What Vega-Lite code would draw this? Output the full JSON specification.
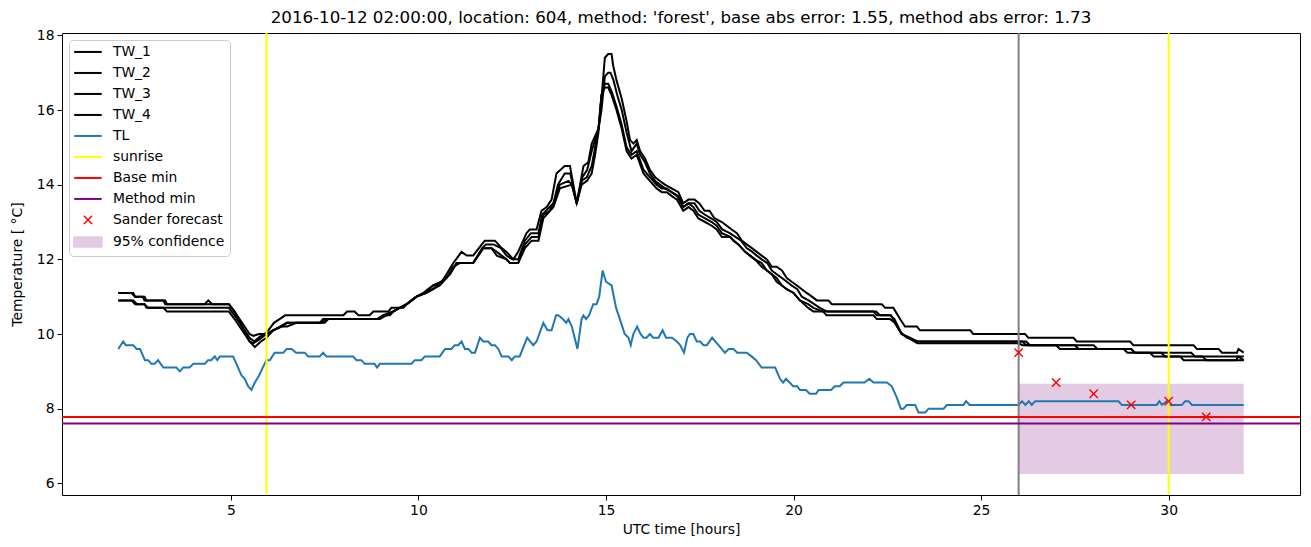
{
"$schema": "https://vega.github.io/schema/vega-lite/v6.json",
"width": 1238, "height": 462,
"autosize": {"type": "none"},
"padding": {"left": 62, "top": 33, "right": 11, "bottom": 52},
"background": "white",
"title": {"text": "2016-10-12 02:00:00, location: 604, method: 'forest', base abs error: 1.55, method abs error: 1.73", "fontSize": 16.67, "fontWeight": "normal", "font": "DejaVu Sans", "color": "black", "anchor": "middle", "offset": 2},
"config": {
  "font": "DejaVu Sans",
  "view": {"stroke": "black", "strokeWidth": 1},
  "axis": {"grid": false, "domain": false, "tickColor": "black", "tickSize": 5, "tickWidth": 1, "labelColor": "black", "labelFontSize": 13.9, "labelFont": "DejaVu Sans", "titleFont": "DejaVu Sans", "titleFontSize": 13.9, "titleFontWeight": "normal", "titleColor": "black", "labelPadding": 3, "labelFlush": false}
},
"datasets": {
"lines": [
{"s":"TW_1","t":2.0,"v":11.1},{"s":"TW_1","t":2.4,"v":11.1},{"s":"TW_1","t":2.45,"v":11.0},{"s":"TW_1","t":2.65,"v":11.0},{"s":"TW_1","t":2.7,"v":10.9},{"s":"TW_1","t":3.2,"v":10.9},{"s":"TW_1","t":3.25,"v":10.8},{"s":"TW_1","t":4.3,"v":10.8},{"s":"TW_1","t":4.4,"v":10.9},{"s":"TW_1","t":4.5,"v":10.8},{"s":"TW_1","t":4.95,"v":10.8},{"s":"TW_1","t":5.1,"v":10.6},{"s":"TW_1","t":5.3,"v":10.3},{"s":"TW_1","t":5.5,"v":10.0},{"s":"TW_1","t":5.6,"v":9.95},{"s":"TW_1","t":5.75,"v":10.0},{"s":"TW_1","t":5.9,"v":10.0},{"s":"TW_1","t":6.0,"v":10.1},{"s":"TW_1","t":6.15,"v":10.3},{"s":"TW_1","t":6.3,"v":10.4},{"s":"TW_1","t":6.45,"v":10.5},{"s":"TW_1","t":8.0,"v":10.5},{"s":"TW_1","t":8.1,"v":10.6},{"s":"TW_1","t":8.3,"v":10.6},{"s":"TW_1","t":8.4,"v":10.5},{"s":"TW_1","t":8.7,"v":10.5},{"s":"TW_1","t":8.8,"v":10.6},{"s":"TW_1","t":9.2,"v":10.6},{"s":"TW_1","t":9.28,"v":10.7},{"s":"TW_1","t":9.6,"v":10.7},{"s":"TW_1","t":9.69,"v":10.8},{"s":"TW_1","t":9.82,"v":10.9},{"s":"TW_1","t":9.95,"v":11.0},{"s":"TW_1","t":10.13,"v":11.1},{"s":"TW_1","t":10.25,"v":11.2},{"s":"TW_1","t":10.39,"v":11.3},{"s":"TW_1","t":10.62,"v":11.4},{"s":"TW_1","t":10.75,"v":11.6},{"s":"TW_1","t":10.93,"v":11.9},{"s":"TW_1","t":11.15,"v":12.2},{"s":"TW_1","t":11.29,"v":12.1},{"s":"TW_1","t":11.46,"v":12.1},{"s":"TW_1","t":11.69,"v":12.4},{"s":"TW_1","t":11.77,"v":12.5},{"s":"TW_1","t":12.04,"v":12.5},{"s":"TW_1","t":12.22,"v":12.3},{"s":"TW_1","t":12.35,"v":12.2},{"s":"TW_1","t":12.44,"v":12.1},{"s":"TW_1","t":12.53,"v":12.0},{"s":"TW_1","t":12.66,"v":12.2},{"s":"TW_1","t":12.88,"v":12.7},{"s":"TW_1","t":12.97,"v":12.8},{"s":"TW_1","t":13.15,"v":12.8},{"s":"TW_1","t":13.28,"v":13.3},{"s":"TW_1","t":13.42,"v":13.4},{"s":"TW_1","t":13.55,"v":13.6},{"s":"TW_1","t":13.68,"v":14.3},{"s":"TW_1","t":13.9,"v":14.5},{"s":"TW_1","t":14.04,"v":14.5},{"s":"TW_1","t":14.22,"v":13.5},{"s":"TW_1","t":14.4,"v":14.5},{"s":"TW_1","t":14.53,"v":14.6},{"s":"TW_1","t":14.62,"v":15.1},{"s":"TW_1","t":14.71,"v":15.3},{"s":"TW_1","t":14.8,"v":15.5},{"s":"TW_1","t":14.88,"v":16.3},{"s":"TW_1","t":14.97,"v":17.4},{"s":"TW_1","t":15.06,"v":17.5},{"s":"TW_1","t":15.15,"v":17.5},{"s":"TW_1","t":15.19,"v":17.2},{"s":"TW_1","t":15.28,"v":16.8},{"s":"TW_1","t":15.42,"v":16.3},{"s":"TW_1","t":15.55,"v":15.7},{"s":"TW_1","t":15.64,"v":15.2},{"s":"TW_1","t":15.73,"v":15.1},{"s":"TW_1","t":15.82,"v":15.2},{"s":"TW_1","t":15.91,"v":14.9},{"s":"TW_1","t":16.04,"v":14.7},{"s":"TW_1","t":16.17,"v":14.4},{"s":"TW_1","t":16.31,"v":14.2},{"s":"TW_1","t":16.44,"v":14.1},{"s":"TW_1","t":16.57,"v":14.0},{"s":"TW_1","t":16.75,"v":13.9},{"s":"TW_1","t":16.93,"v":13.8},{"s":"TW_1","t":17.06,"v":13.5},{"s":"TW_1","t":17.2,"v":13.6},{"s":"TW_1","t":17.36,"v":13.6},{"s":"TW_1","t":17.49,"v":13.5},{"s":"TW_1","t":17.63,"v":13.3},{"s":"TW_1","t":17.76,"v":13.3},{"s":"TW_1","t":17.89,"v":13.1},{"s":"TW_1","t":18.09,"v":13.0},{"s":"TW_1","t":18.22,"v":12.9},{"s":"TW_1","t":18.35,"v":12.8},{"s":"TW_1","t":18.49,"v":12.7},{"s":"TW_1","t":18.62,"v":12.5},{"s":"TW_1","t":18.75,"v":12.4},{"s":"TW_1","t":18.89,"v":12.3},{"s":"TW_1","t":19.02,"v":12.2},{"s":"TW_1","t":19.15,"v":12.1},{"s":"TW_1","t":19.29,"v":12.0},{"s":"TW_1","t":19.42,"v":11.8},{"s":"TW_1","t":19.55,"v":11.8},{"s":"TW_1","t":19.69,"v":11.7},{"s":"TW_1","t":19.82,"v":11.5},{"s":"TW_1","t":19.95,"v":11.4},{"s":"TW_1","t":20.09,"v":11.3},{"s":"TW_1","t":20.22,"v":11.2},{"s":"TW_1","t":20.35,"v":11.1},{"s":"TW_1","t":20.49,"v":11.0},{"s":"TW_1","t":20.62,"v":10.9},{"s":"TW_1","t":20.93,"v":10.9},{"s":"TW_1","t":21.02,"v":10.8},{"s":"TW_1","t":22.35,"v":10.8},{"s":"TW_1","t":22.44,"v":10.7},{"s":"TW_1","t":22.66,"v":10.7},{"s":"TW_1","t":22.84,"v":10.4},{"s":"TW_1","t":22.97,"v":10.2},{"s":"TW_1","t":23.29,"v":10.2},{"s":"TW_1","t":23.37,"v":10.1},{"s":"TW_1","t":24.71,"v":10.1},{"s":"TW_1","t":24.79,"v":10.0},{"s":"TW_1","t":26.17,"v":10.0},{"s":"TW_1","t":26.26,"v":9.9},{"s":"TW_1","t":27.46,"v":9.9},{"s":"TW_1","t":27.55,"v":9.8},{"s":"TW_1","t":28.97,"v":9.8},{"s":"TW_1","t":29.06,"v":9.7},{"s":"TW_1","t":30.66,"v":9.7},{"s":"TW_1","t":30.75,"v":9.6},{"s":"TW_1","t":31.33,"v":9.6},{"s":"TW_1","t":31.42,"v":9.5},{"s":"TW_1","t":31.82,"v":9.5},{"s":"TW_1","t":31.86,"v":9.6},{"s":"TW_1","t":32.0,"v":9.5},
{"s":"TW_2","t":2.0,"v":11.1},{"s":"TW_2","t":2.35,"v":11.1},{"s":"TW_2","t":2.45,"v":11.0},{"s":"TW_2","t":2.7,"v":11.0},{"s":"TW_2","t":2.75,"v":10.9},{"s":"TW_2","t":3.25,"v":10.9},{"s":"TW_2","t":3.3,"v":10.8},{"s":"TW_2","t":4.95,"v":10.8},{"s":"TW_2","t":5.1,"v":10.6},{"s":"TW_2","t":5.3,"v":10.2},{"s":"TW_2","t":5.5,"v":9.9},{"s":"TW_2","t":5.62,"v":9.8},{"s":"TW_2","t":5.8,"v":9.95},{"s":"TW_2","t":6.0,"v":10.0},{"s":"TW_2","t":6.13,"v":10.1},{"s":"TW_2","t":6.35,"v":10.2},{"s":"TW_2","t":6.5,"v":10.2},{"s":"TW_2","t":6.75,"v":10.3},{"s":"TW_2","t":7.42,"v":10.3},{"s":"TW_2","t":7.55,"v":10.4},{"s":"TW_2","t":8.97,"v":10.4},{"s":"TW_2","t":9.15,"v":10.5},{"s":"TW_2","t":9.33,"v":10.6},{"s":"TW_2","t":9.5,"v":10.7},{"s":"TW_2","t":9.69,"v":10.8},{"s":"TW_2","t":9.82,"v":10.9},{"s":"TW_2","t":9.95,"v":11.0},{"s":"TW_2","t":10.2,"v":11.1},{"s":"TW_2","t":10.39,"v":11.3},{"s":"TW_2","t":10.62,"v":11.4},{"s":"TW_2","t":10.75,"v":11.5},{"s":"TW_2","t":10.93,"v":11.8},{"s":"TW_2","t":11.1,"v":11.9},{"s":"TW_2","t":11.46,"v":11.9},{"s":"TW_2","t":11.7,"v":12.3},{"s":"TW_2","t":11.8,"v":12.4},{"s":"TW_2","t":12.0,"v":12.4},{"s":"TW_2","t":12.2,"v":12.3},{"s":"TW_2","t":12.35,"v":12.1},{"s":"TW_2","t":12.5,"v":12.0},{"s":"TW_2","t":12.66,"v":12.0},{"s":"TW_2","t":12.84,"v":12.5},{"s":"TW_2","t":13.0,"v":12.7},{"s":"TW_2","t":13.2,"v":12.7},{"s":"TW_2","t":13.3,"v":13.2},{"s":"TW_2","t":13.5,"v":13.4},{"s":"TW_2","t":13.6,"v":13.5},{"s":"TW_2","t":13.72,"v":14.0},{"s":"TW_2","t":13.9,"v":14.3},{"s":"TW_2","t":14.05,"v":14.3},{"s":"TW_2","t":14.22,"v":13.5},{"s":"TW_2","t":14.37,"v":14.2},{"s":"TW_2","t":14.5,"v":14.4},{"s":"TW_2","t":14.62,"v":14.9},{"s":"TW_2","t":14.71,"v":15.2},{"s":"TW_2","t":14.8,"v":15.5},{"s":"TW_2","t":14.88,"v":16.0},{"s":"TW_2","t":14.97,"v":16.9},{"s":"TW_2","t":15.06,"v":17.0},{"s":"TW_2","t":15.12,"v":17.0},{"s":"TW_2","t":15.2,"v":16.8},{"s":"TW_2","t":15.3,"v":16.4},{"s":"TW_2","t":15.42,"v":16.0},{"s":"TW_2","t":15.55,"v":15.4},{"s":"TW_2","t":15.68,"v":14.9},{"s":"TW_2","t":15.82,"v":15.1},{"s":"TW_2","t":15.91,"v":14.8},{"s":"TW_2","t":16.04,"v":14.6},{"s":"TW_2","t":16.17,"v":14.3},{"s":"TW_2","t":16.31,"v":14.1},{"s":"TW_2","t":16.44,"v":14.0},{"s":"TW_2","t":16.57,"v":13.9},{"s":"TW_2","t":16.75,"v":13.8},{"s":"TW_2","t":16.93,"v":13.7},{"s":"TW_2","t":17.06,"v":13.4},{"s":"TW_2","t":17.2,"v":13.5},{"s":"TW_2","t":17.36,"v":13.5},{"s":"TW_2","t":17.49,"v":13.3},{"s":"TW_2","t":17.63,"v":13.2},{"s":"TW_2","t":17.8,"v":13.1},{"s":"TW_2","t":17.95,"v":13.0},{"s":"TW_2","t":18.1,"v":12.8},{"s":"TW_2","t":18.3,"v":12.7},{"s":"TW_2","t":18.45,"v":12.6},{"s":"TW_2","t":18.6,"v":12.5},{"s":"TW_2","t":18.75,"v":12.3},{"s":"TW_2","t":18.9,"v":12.2},{"s":"TW_2","t":19.02,"v":12.1},{"s":"TW_2","t":19.15,"v":12.0},{"s":"TW_2","t":19.3,"v":11.9},{"s":"TW_2","t":19.42,"v":11.7},{"s":"TW_2","t":19.55,"v":11.6},{"s":"TW_2","t":19.69,"v":11.5},{"s":"TW_2","t":19.82,"v":11.4},{"s":"TW_2","t":19.95,"v":11.3},{"s":"TW_2","t":20.1,"v":11.2},{"s":"TW_2","t":20.22,"v":11.0},{"s":"TW_2","t":20.4,"v":10.9},{"s":"TW_2","t":20.55,"v":10.8},{"s":"TW_2","t":20.7,"v":10.7},{"s":"TW_2","t":20.9,"v":10.6},{"s":"TW_2","t":22.2,"v":10.6},{"s":"TW_2","t":22.3,"v":10.5},{"s":"TW_2","t":22.57,"v":10.5},{"s":"TW_2","t":22.69,"v":10.4},{"s":"TW_2","t":22.86,"v":10.05},{"s":"TW_2","t":23.02,"v":9.9},{"s":"TW_2","t":23.3,"v":9.8},{"s":"TW_2","t":26.1,"v":9.8},{"s":"TW_2","t":26.2,"v":9.7},{"s":"TW_2","t":27.5,"v":9.7},{"s":"TW_2","t":27.6,"v":9.6},{"s":"TW_2","t":29.0,"v":9.6},{"s":"TW_2","t":29.1,"v":9.5},{"s":"TW_2","t":30.6,"v":9.5},{"s":"TW_2","t":30.7,"v":9.4},{"s":"TW_2","t":32.0,"v":9.4},
{"s":"TW_3","t":2.0,"v":10.9},{"s":"TW_3","t":2.4,"v":10.9},{"s":"TW_3","t":2.5,"v":10.8},{"s":"TW_3","t":2.7,"v":10.8},{"s":"TW_3","t":2.75,"v":10.7},{"s":"TW_3","t":4.95,"v":10.7},{"s":"TW_3","t":5.1,"v":10.5},{"s":"TW_3","t":5.3,"v":10.2},{"s":"TW_3","t":5.5,"v":9.8},{"s":"TW_3","t":5.6,"v":9.75},{"s":"TW_3","t":5.75,"v":9.85},{"s":"TW_3","t":5.95,"v":10.0},{"s":"TW_3","t":6.13,"v":10.1},{"s":"TW_3","t":6.35,"v":10.2},{"s":"TW_3","t":6.5,"v":10.3},{"s":"TW_3","t":7.5,"v":10.3},{"s":"TW_3","t":7.6,"v":10.4},{"s":"TW_3","t":8.9,"v":10.4},{"s":"TW_3","t":9.05,"v":10.5},{"s":"TW_3","t":9.3,"v":10.6},{"s":"TW_3","t":9.5,"v":10.7},{"s":"TW_3","t":9.69,"v":10.8},{"s":"TW_3","t":9.82,"v":10.9},{"s":"TW_3","t":9.95,"v":11.0},{"s":"TW_3","t":10.2,"v":11.1},{"s":"TW_3","t":10.39,"v":11.2},{"s":"TW_3","t":10.6,"v":11.4},{"s":"TW_3","t":10.84,"v":11.6},{"s":"TW_3","t":11.02,"v":11.9},{"s":"TW_3","t":11.46,"v":11.9},{"s":"TW_3","t":11.73,"v":12.3},{"s":"TW_3","t":11.95,"v":12.3},{"s":"TW_3","t":12.09,"v":12.2},{"s":"TW_3","t":12.35,"v":12.0},{"s":"TW_3","t":12.44,"v":11.9},{"s":"TW_3","t":12.66,"v":11.9},{"s":"TW_3","t":12.84,"v":12.4},{"s":"TW_3","t":13.02,"v":12.6},{"s":"TW_3","t":13.2,"v":12.6},{"s":"TW_3","t":13.33,"v":13.2},{"s":"TW_3","t":13.5,"v":13.3},{"s":"TW_3","t":13.6,"v":13.5},{"s":"TW_3","t":13.77,"v":14.0},{"s":"TW_3","t":14.0,"v":14.1},{"s":"TW_3","t":14.09,"v":14.0},{"s":"TW_3","t":14.22,"v":13.5},{"s":"TW_3","t":14.35,"v":14.1},{"s":"TW_3","t":14.49,"v":14.2},{"s":"TW_3","t":14.62,"v":14.5},{"s":"TW_3","t":14.71,"v":15.0},{"s":"TW_3","t":14.8,"v":15.5},{"s":"TW_3","t":14.88,"v":16.4},{"s":"TW_3","t":14.97,"v":16.7},{"s":"TW_3","t":15.06,"v":16.7},{"s":"TW_3","t":15.15,"v":16.5},{"s":"TW_3","t":15.28,"v":16.1},{"s":"TW_3","t":15.42,"v":15.6},{"s":"TW_3","t":15.55,"v":15.0},{"s":"TW_3","t":15.68,"v":14.8},{"s":"TW_3","t":15.82,"v":14.9},{"s":"TW_3","t":16.0,"v":14.4},{"s":"TW_3","t":16.17,"v":14.2},{"s":"TW_3","t":16.35,"v":14.0},{"s":"TW_3","t":16.49,"v":13.9},{"s":"TW_3","t":16.62,"v":13.9},{"s":"TW_3","t":16.75,"v":13.8},{"s":"TW_3","t":16.89,"v":13.7},{"s":"TW_3","t":17.06,"v":13.4},{"s":"TW_3","t":17.2,"v":13.5},{"s":"TW_3","t":17.33,"v":13.4},{"s":"TW_3","t":17.46,"v":13.2},{"s":"TW_3","t":17.64,"v":13.1},{"s":"TW_3","t":17.82,"v":13.0},{"s":"TW_3","t":17.95,"v":12.9},{"s":"TW_3","t":18.09,"v":12.7},{"s":"TW_3","t":18.31,"v":12.6},{"s":"TW_3","t":18.4,"v":12.5},{"s":"TW_3","t":18.53,"v":12.4},{"s":"TW_3","t":18.71,"v":12.2},{"s":"TW_3","t":18.84,"v":12.1},{"s":"TW_3","t":18.97,"v":12.0},{"s":"TW_3","t":19.15,"v":11.9},{"s":"TW_3","t":19.29,"v":11.7},{"s":"TW_3","t":19.42,"v":11.6},{"s":"TW_3","t":19.55,"v":11.5},{"s":"TW_3","t":19.69,"v":11.3},{"s":"TW_3","t":19.82,"v":11.2},{"s":"TW_3","t":20.0,"v":11.1},{"s":"TW_3","t":20.17,"v":10.9},{"s":"TW_3","t":20.39,"v":10.8},{"s":"TW_3","t":20.53,"v":10.7},{"s":"TW_3","t":20.79,"v":10.6},{"s":"TW_3","t":22.13,"v":10.6},{"s":"TW_3","t":22.22,"v":10.5},{"s":"TW_3","t":22.6,"v":10.5},{"s":"TW_3","t":22.7,"v":10.3},{"s":"TW_3","t":22.88,"v":10.0},{"s":"TW_3","t":23.1,"v":9.9},{"s":"TW_3","t":23.3,"v":9.8},{"s":"TW_3","t":26.2,"v":9.8},{"s":"TW_3","t":26.3,"v":9.7},{"s":"TW_3","t":28.0,"v":9.7},{"s":"TW_3","t":28.1,"v":9.6},{"s":"TW_3","t":29.0,"v":9.6},{"s":"TW_3","t":29.1,"v":9.5},{"s":"TW_3","t":29.8,"v":9.5},{"s":"TW_3","t":29.9,"v":9.4},{"s":"TW_3","t":30.9,"v":9.4},{"s":"TW_3","t":31.0,"v":9.3},{"s":"TW_3","t":32.0,"v":9.3},
{"s":"TW_4","t":2.0,"v":10.9},{"s":"TW_4","t":2.35,"v":10.9},{"s":"TW_4","t":2.45,"v":10.8},{"s":"TW_4","t":2.7,"v":10.8},{"s":"TW_4","t":2.8,"v":10.7},{"s":"TW_4","t":3.2,"v":10.7},{"s":"TW_4","t":3.3,"v":10.6},{"s":"TW_4","t":4.95,"v":10.6},{"s":"TW_4","t":5.1,"v":10.4},{"s":"TW_4","t":5.3,"v":10.1},{"s":"TW_4","t":5.5,"v":9.8},{"s":"TW_4","t":5.64,"v":9.65},{"s":"TW_4","t":5.8,"v":9.8},{"s":"TW_4","t":5.95,"v":9.9},{"s":"TW_4","t":6.13,"v":10.1},{"s":"TW_4","t":6.31,"v":10.2},{"s":"TW_4","t":6.49,"v":10.3},{"s":"TW_4","t":7.37,"v":10.3},{"s":"TW_4","t":7.46,"v":10.4},{"s":"TW_4","t":8.97,"v":10.4},{"s":"TW_4","t":9.06,"v":10.5},{"s":"TW_4","t":9.24,"v":10.5},{"s":"TW_4","t":9.33,"v":10.6},{"s":"TW_4","t":9.5,"v":10.7},{"s":"TW_4","t":9.69,"v":10.8},{"s":"TW_4","t":9.82,"v":10.9},{"s":"TW_4","t":9.95,"v":11.0},{"s":"TW_4","t":10.22,"v":11.1},{"s":"TW_4","t":10.39,"v":11.2},{"s":"TW_4","t":10.57,"v":11.3},{"s":"TW_4","t":10.84,"v":11.6},{"s":"TW_4","t":11.02,"v":11.9},{"s":"TW_4","t":11.46,"v":11.9},{"s":"TW_4","t":11.73,"v":12.3},{"s":"TW_4","t":11.95,"v":12.3},{"s":"TW_4","t":12.09,"v":12.1},{"s":"TW_4","t":12.35,"v":12.0},{"s":"TW_4","t":12.44,"v":11.9},{"s":"TW_4","t":12.66,"v":11.9},{"s":"TW_4","t":12.84,"v":12.3},{"s":"TW_4","t":13.02,"v":12.5},{"s":"TW_4","t":13.2,"v":12.5},{"s":"TW_4","t":13.33,"v":13.1},{"s":"TW_4","t":13.51,"v":13.3},{"s":"TW_4","t":13.6,"v":13.4},{"s":"TW_4","t":13.77,"v":13.9},{"s":"TW_4","t":14.09,"v":14.0},{"s":"TW_4","t":14.22,"v":13.5},{"s":"TW_4","t":14.35,"v":14.0},{"s":"TW_4","t":14.49,"v":14.1},{"s":"TW_4","t":14.62,"v":14.3},{"s":"TW_4","t":14.71,"v":14.8},{"s":"TW_4","t":14.8,"v":15.4},{"s":"TW_4","t":14.88,"v":16.4},{"s":"TW_4","t":14.97,"v":16.6},{"s":"TW_4","t":15.06,"v":16.6},{"s":"TW_4","t":15.15,"v":16.4},{"s":"TW_4","t":15.28,"v":16.0},{"s":"TW_4","t":15.42,"v":15.5},{"s":"TW_4","t":15.55,"v":14.9},{"s":"TW_4","t":15.68,"v":14.7},{"s":"TW_4","t":15.82,"v":14.8},{"s":"TW_4","t":16.0,"v":14.3},{"s":"TW_4","t":16.17,"v":14.1},{"s":"TW_4","t":16.35,"v":13.9},{"s":"TW_4","t":16.49,"v":13.8},{"s":"TW_4","t":16.62,"v":13.8},{"s":"TW_4","t":16.75,"v":13.7},{"s":"TW_4","t":16.89,"v":13.6},{"s":"TW_4","t":17.06,"v":13.3},{"s":"TW_4","t":17.2,"v":13.4},{"s":"TW_4","t":17.33,"v":13.3},{"s":"TW_4","t":17.46,"v":13.1},{"s":"TW_4","t":17.64,"v":13.0},{"s":"TW_4","t":17.82,"v":12.9},{"s":"TW_4","t":17.95,"v":12.8},{"s":"TW_4","t":18.09,"v":12.6},{"s":"TW_4","t":18.31,"v":12.6},{"s":"TW_4","t":18.4,"v":12.5},{"s":"TW_4","t":18.53,"v":12.4},{"s":"TW_4","t":18.71,"v":12.2},{"s":"TW_4","t":18.84,"v":12.1},{"s":"TW_4","t":18.97,"v":12.0},{"s":"TW_4","t":19.15,"v":11.8},{"s":"TW_4","t":19.29,"v":11.7},{"s":"TW_4","t":19.42,"v":11.6},{"s":"TW_4","t":19.55,"v":11.4},{"s":"TW_4","t":19.69,"v":11.3},{"s":"TW_4","t":19.82,"v":11.2},{"s":"TW_4","t":20.0,"v":11.1},{"s":"TW_4","t":20.17,"v":10.9},{"s":"TW_4","t":20.39,"v":10.7},{"s":"TW_4","t":20.53,"v":10.6},{"s":"TW_4","t":20.79,"v":10.6},{"s":"TW_4","t":20.88,"v":10.5},{"s":"TW_4","t":22.13,"v":10.5},{"s":"TW_4","t":22.22,"v":10.4},{"s":"TW_4","t":22.57,"v":10.4},{"s":"TW_4","t":22.7,"v":10.3},{"s":"TW_4","t":22.88,"v":10.0},{"s":"TW_4","t":23.05,"v":9.9},{"s":"TW_4","t":23.3,"v":9.75},{"s":"TW_4","t":26.0,"v":9.75},{"s":"TW_4","t":26.1,"v":9.7},{"s":"TW_4","t":27.0,"v":9.7},{"s":"TW_4","t":27.1,"v":9.6},{"s":"TW_4","t":28.8,"v":9.6},{"s":"TW_4","t":28.9,"v":9.5},{"s":"TW_4","t":29.5,"v":9.5},{"s":"TW_4","t":29.6,"v":9.4},{"s":"TW_4","t":30.3,"v":9.4},{"s":"TW_4","t":30.4,"v":9.3},{"s":"TW_4","t":31.8,"v":9.3},{"s":"TW_4","t":31.85,"v":9.4},{"s":"TW_4","t":32.0,"v":9.3},
{"s":"TL","t":2.0,"v":9.6},{"s":"TL","t":2.13,"v":9.8},{"s":"TL","t":2.2,"v":9.7},{"s":"TL","t":2.4,"v":9.7},{"s":"TL","t":2.49,"v":9.6},{"s":"TL","t":2.58,"v":9.6},{"s":"TL","t":2.71,"v":9.3},{"s":"TL","t":2.8,"v":9.3},{"s":"TL","t":2.88,"v":9.2},{"s":"TL","t":2.97,"v":9.2},{"s":"TL","t":3.06,"v":9.3},{"s":"TL","t":3.2,"v":9.1},{"s":"TL","t":3.55,"v":9.1},{"s":"TL","t":3.64,"v":9.0},{"s":"TL","t":3.73,"v":9.1},{"s":"TL","t":3.9,"v":9.1},{"s":"TL","t":4.0,"v":9.2},{"s":"TL","t":4.31,"v":9.2},{"s":"TL","t":4.39,"v":9.3},{"s":"TL","t":4.48,"v":9.3},{"s":"TL","t":4.57,"v":9.4},{"s":"TL","t":4.64,"v":9.3},{"s":"TL","t":4.71,"v":9.4},{"s":"TL","t":5.06,"v":9.4},{"s":"TL","t":5.15,"v":9.2},{"s":"TL","t":5.28,"v":8.9},{"s":"TL","t":5.37,"v":8.8},{"s":"TL","t":5.46,"v":8.6},{"s":"TL","t":5.55,"v":8.5},{"s":"TL","t":5.64,"v":8.7},{"s":"TL","t":5.76,"v":8.9},{"s":"TL","t":5.85,"v":9.1},{"s":"TL","t":5.95,"v":9.3},{"s":"TL","t":6.04,"v":9.3},{"s":"TL","t":6.17,"v":9.5},{"s":"TL","t":6.4,"v":9.5},{"s":"TL","t":6.49,"v":9.6},{"s":"TL","t":6.62,"v":9.6},{"s":"TL","t":6.74,"v":9.5},{"s":"TL","t":6.97,"v":9.5},{"s":"TL","t":7.06,"v":9.4},{"s":"TL","t":7.37,"v":9.4},{"s":"TL","t":7.46,"v":9.5},{"s":"TL","t":7.55,"v":9.4},{"s":"TL","t":8.26,"v":9.4},{"s":"TL","t":8.35,"v":9.3},{"s":"TL","t":8.48,"v":9.3},{"s":"TL","t":8.57,"v":9.2},{"s":"TL","t":8.83,"v":9.2},{"s":"TL","t":8.9,"v":9.1},{"s":"TL","t":8.97,"v":9.2},{"s":"TL","t":9.82,"v":9.2},{"s":"TL","t":9.9,"v":9.3},{"s":"TL","t":10.08,"v":9.3},{"s":"TL","t":10.17,"v":9.4},{"s":"TL","t":10.57,"v":9.4},{"s":"TL","t":10.71,"v":9.6},{"s":"TL","t":10.88,"v":9.6},{"s":"TL","t":10.97,"v":9.7},{"s":"TL","t":11.06,"v":9.7},{"s":"TL","t":11.15,"v":9.8},{"s":"TL","t":11.24,"v":9.6},{"s":"TL","t":11.33,"v":9.6},{"s":"TL","t":11.42,"v":9.5},{"s":"TL","t":11.51,"v":9.5},{"s":"TL","t":11.64,"v":9.9},{"s":"TL","t":11.73,"v":9.8},{"s":"TL","t":11.86,"v":9.8},{"s":"TL","t":11.95,"v":9.7},{"s":"TL","t":12.04,"v":9.7},{"s":"TL","t":12.13,"v":9.6},{"s":"TL","t":12.22,"v":9.4},{"s":"TL","t":12.4,"v":9.4},{"s":"TL","t":12.49,"v":9.3},{"s":"TL","t":12.57,"v":9.4},{"s":"TL","t":12.7,"v":9.4},{"s":"TL","t":12.9,"v":9.9},{"s":"TL","t":13.06,"v":9.7},{"s":"TL","t":13.15,"v":9.8},{"s":"TL","t":13.33,"v":10.3},{"s":"TL","t":13.44,"v":10.1},{"s":"TL","t":13.55,"v":10.1},{"s":"TL","t":13.67,"v":10.5},{"s":"TL","t":13.73,"v":10.5},{"s":"TL","t":13.85,"v":10.4},{"s":"TL","t":13.94,"v":10.3},{"s":"TL","t":14.0,"v":10.4},{"s":"TL","t":14.09,"v":10.2},{"s":"TL","t":14.24,"v":9.6},{"s":"TL","t":14.35,"v":10.4},{"s":"TL","t":14.4,"v":10.5},{"s":"TL","t":14.47,"v":10.4},{"s":"TL","t":14.55,"v":10.5},{"s":"TL","t":14.66,"v":10.8},{"s":"TL","t":14.75,"v":10.8},{"s":"TL","t":14.82,"v":11.0},{"s":"TL","t":14.91,"v":11.7},{"s":"TL","t":15.0,"v":11.4},{"s":"TL","t":15.15,"v":11.3},{"s":"TL","t":15.27,"v":10.7},{"s":"TL","t":15.37,"v":10.4},{"s":"TL","t":15.5,"v":10.0},{"s":"TL","t":15.6,"v":9.9},{"s":"TL","t":15.66,"v":9.7},{"s":"TL","t":15.73,"v":10.0},{"s":"TL","t":15.83,"v":10.2},{"s":"TL","t":15.92,"v":10.0},{"s":"TL","t":16.0,"v":9.9},{"s":"TL","t":16.08,"v":9.9},{"s":"TL","t":16.17,"v":10.0},{"s":"TL","t":16.26,"v":9.9},{"s":"TL","t":16.4,"v":9.9},{"s":"TL","t":16.51,"v":10.1},{"s":"TL","t":16.6,"v":9.9},{"s":"TL","t":16.76,"v":9.9},{"s":"TL","t":16.89,"v":9.8},{"s":"TL","t":16.98,"v":9.7},{"s":"TL","t":17.08,"v":9.5},{"s":"TL","t":17.17,"v":9.9},{"s":"TL","t":17.24,"v":10.0},{"s":"TL","t":17.33,"v":10.0},{"s":"TL","t":17.42,"v":9.8},{"s":"TL","t":17.51,"v":9.8},{"s":"TL","t":17.6,"v":9.7},{"s":"TL","t":17.69,"v":9.7},{"s":"TL","t":17.83,"v":9.9},{"s":"TL","t":18.0,"v":9.7},{"s":"TL","t":18.17,"v":9.5},{"s":"TL","t":18.27,"v":9.6},{"s":"TL","t":18.4,"v":9.6},{"s":"TL","t":18.5,"v":9.5},{"s":"TL","t":18.75,"v":9.5},{"s":"TL","t":18.88,"v":9.4},{"s":"TL","t":19.0,"v":9.3},{"s":"TL","t":19.15,"v":9.1},{"s":"TL","t":19.51,"v":9.1},{"s":"TL","t":19.64,"v":8.8},{"s":"TL","t":19.72,"v":8.7},{"s":"TL","t":19.8,"v":8.8},{"s":"TL","t":19.99,"v":8.6},{"s":"TL","t":20.1,"v":8.6},{"s":"TL","t":20.17,"v":8.5},{"s":"TL","t":20.33,"v":8.5},{"s":"TL","t":20.43,"v":8.4},{"s":"TL","t":20.6,"v":8.4},{"s":"TL","t":20.67,"v":8.5},{"s":"TL","t":21.0,"v":8.5},{"s":"TL","t":21.1,"v":8.6},{"s":"TL","t":21.23,"v":8.6},{"s":"TL","t":21.33,"v":8.7},{"s":"TL","t":21.89,"v":8.7},{"s":"TL","t":22.02,"v":8.8},{"s":"TL","t":22.13,"v":8.7},{"s":"TL","t":22.49,"v":8.7},{"s":"TL","t":22.62,"v":8.6},{"s":"TL","t":22.75,"v":8.3},{"s":"TL","t":22.86,"v":8.0},{"s":"TL","t":22.93,"v":8.0},{"s":"TL","t":23.02,"v":8.1},{"s":"TL","t":23.24,"v":8.1},{"s":"TL","t":23.33,"v":7.9},{"s":"TL","t":23.51,"v":7.9},{"s":"TL","t":23.6,"v":8.0},{"s":"TL","t":24.0,"v":8.0},{"s":"TL","t":24.09,"v":8.1},{"s":"TL","t":24.53,"v":8.1},{"s":"TL","t":24.6,"v":8.2},{"s":"TL","t":24.69,"v":8.1},{"s":"TL","t":26.0,"v":8.1},{"s":"TL","t":26.09,"v":8.2},{"s":"TL","t":26.18,"v":8.1},{"s":"TL","t":26.27,"v":8.2},{"s":"TL","t":26.35,"v":8.1},{"s":"TL","t":26.44,"v":8.2},{"s":"TL","t":28.66,"v":8.2},{"s":"TL","t":28.75,"v":8.1},{"s":"TL","t":29.68,"v":8.1},{"s":"TL","t":29.75,"v":8.2},{"s":"TL","t":29.82,"v":8.1},{"s":"TL","t":29.95,"v":8.2},{"s":"TL","t":30.04,"v":8.1},{"s":"TL","t":30.35,"v":8.1},{"s":"TL","t":30.44,"v":8.2},{"s":"TL","t":30.53,"v":8.2},{"s":"TL","t":30.62,"v":8.1},{"s":"TL","t":32.0,"v":8.1}
],
"band": [{"s":"95% confidence","t":26.0,"t2":32.0,"v":6.25,"v2":8.67}],
"vlines": [{"s":"sunrise","t":5.95},{"s":"sunrise","t":30.0}],
"now": [{"t":26.0}],
"hlines": [{"s":"Base min","v":7.78},{"s":"Method min","v":7.6}],
"forecast": [{"s":"Sander forecast","t":26,"v":9.5},{"s":"Sander forecast","t":27,"v":8.7},{"s":"Sander forecast","t":28,"v":8.4},{"s":"Sander forecast","t":29,"v":8.1},{"s":"Sander forecast","t":30,"v":8.2},{"s":"Sander forecast","t":31,"v":7.78}]
},
"layer": [
{"data": {"name": "band"}, "mark": {"type": "rect"},
 "encoding": {
  "x": {"field": "t", "type": "quantitative", "scale": {"domain": [0.5, 33.5], "nice": false, "zero": false}, "axis": {"values": [5,10,15,20,25,30], "title": "UTC time [hours]", "titlePadding": 6}},
  "x2": {"field": "t2"},
  "y": {"field": "v", "type": "quantitative", "scale": {"domain": [5.6875, 18.0625], "nice": false, "zero": false}, "axis": {"values": [6,8,10,12,14,16,18], "title": "Temperature [ °C]", "titlePadding": 12}},
  "y2": {"field": "v2"},
  "color": {"field": "s", "type": "nominal",
   "scale": {"domain": ["TW_1","TW_2","TW_3","TW_4","TL","sunrise","Base min","Method min","Sander forecast","95% confidence"], "range": ["#000000","#000000","#000000","#000000","#1f77b4","#ffff00","#ff0000","#800080","#ff0000","#e3cce3"]},
   "legend": {"title": null, "orient": "top-left", "offset": 7, "padding": 5, "rowPadding": 6, "symbolSize": 121, "symbolOffset": 7, "labelOffset": 18, "labelFont": "DejaVu Sans", "labelFontSize": 13.9, "labelColor": "black", "fillColor": "rgba(255,255,255,0.8)", "strokeColor": "#cccccc", "cornerRadius": 4,
    "encode": {"symbols": {"update": {
      "shape": {"signal": "datum.value === 'Sander forecast' ? 'M-0.75,-0.75L0.75,0.75M0.75,-0.75L-0.75,0.75' : (datum.value === '95% confidence' ? 'M-2.5,-0.85H2.5V0.85H-2.5Z' : 'M-2.5,0H2.5')"},
      "fill": {"signal": "datum.value === '95% confidence' ? '#e3cce3' : 'transparent'"},
      "stroke": {"signal": "datum.value === '95% confidence' ? 'transparent' : (datum.value === 'TL' ? '#1f77b4' : (datum.value === 'sunrise' ? '#ffff00' : (datum.value === 'Base min' || datum.value === 'Sander forecast' ? '#ff0000' : (datum.value === 'Method min' ? '#800080' : '#000000'))))"},
      "strokeWidth": {"signal": "datum.value === 'Sander forecast' ? 1.4 : 2"},
      "opacity": {"value": 1}
    }}}}
  }
 }},
{"data": {"name": "lines"}, "mark": {"type": "line", "strokeWidth": 2},
 "encoding": {
  "x": {"field": "t", "type": "quantitative", "axis": {"values": [5,10,15,20,25,30], "title": "UTC time [hours]", "titlePadding": 6}},
  "y": {"field": "v", "type": "quantitative", "axis": {"values": [6,8,10,12,14,16,18], "title": "Temperature [ °C]", "titlePadding": 12}},
  "color": {"field": "s", "type": "nominal"}
 }},
{"data": {"name": "vlines"}, "mark": {"type": "rule", "strokeWidth": 2},
 "encoding": {
  "x": {"field": "t", "type": "quantitative", "axis": {"values": [5,10,15,20,25,30], "title": "UTC time [hours]", "titlePadding": 6}},
  "color": {"field": "s", "type": "nominal"}
 }},
{"data": {"name": "now"}, "mark": {"type": "rule", "strokeWidth": 2, "color": "#808080"},
 "encoding": {
  "x": {"field": "t", "type": "quantitative", "axis": {"values": [5,10,15,20,25,30], "title": "UTC time [hours]", "titlePadding": 6}}
 }},
{"data": {"name": "hlines"}, "mark": {"type": "rule", "strokeWidth": 2},
 "encoding": {
  "y": {"field": "v", "type": "quantitative", "axis": {"values": [6,8,10,12,14,16,18], "title": "Temperature [ °C]", "titlePadding": 12}},
  "color": {"field": "s", "type": "nominal"}
 }},
{"data": {"name": "forecast"}, "mark": {"type": "point", "shape": "M-1,-1L1,1M1,-1L-1,1", "filled": false, "strokeWidth": 1.4, "size": 70, "opacity": 1},
 "encoding": {
  "x": {"field": "t", "type": "quantitative", "axis": {"values": [5,10,15,20,25,30], "title": "UTC time [hours]", "titlePadding": 6}},
  "y": {"field": "v", "type": "quantitative", "axis": {"values": [6,8,10,12,14,16,18], "title": "Temperature [ °C]", "titlePadding": 12}},
  "color": {"field": "s", "type": "nominal"}
 }}
]
}
